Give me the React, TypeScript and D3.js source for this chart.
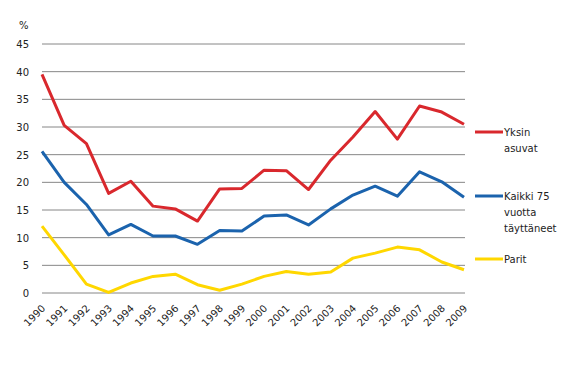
import React from "react";
import * as d3 from "d3";

const years = [1990,1991,1992,1993,1994,1995,1996,1997,1998,1999,2000,2001,2002,2003,2004,2005,2006,2007,2008,2009];
const yksinAsuvat = [39.5,30.3,27.0,18.0,20.2,15.7,15.2,13.0,18.8,18.9,22.2,22.1,18.7,24.0,28.2,32.8,27.8,33.8,32.7,30.5];
const kaikki75 = [25.6,20.0,16.0,10.5,12.4,10.3,10.3,8.8,11.3,11.2,13.9,14.1,12.3,15.2,17.7,19.3,17.5,21.9,20.1,17.3];
const parit = [12.1,6.9,1.6,0.1,1.8,3.0,3.4,1.5,0.5,1.6,3.0,3.9,3.4,3.8,6.3,7.2,8.3,7.8,5.6,4.2];
const yTicks = [0,5,10,15,20,25,30,35,40,45];

const series = [
  { name: ["Yksin", "asuvat"], values: yksinAsuvat, color: "#d9282d" },
  { name: ["Kaikki 75", "vuotta", "täyttäneet"], values: kaikki75, color: "#1b63ad" },
  { name: ["Parit"], values: parit, color: "#ffd700" },
];

export default function App() {
  const W = 565, H = 382;
  const x = d3.scaleLinear().domain([1990, 2009]).range([42, 464]);
  const y = d3.scaleLinear().domain([0, 45]).range([293, 44]);
  const line = d3.line<number>().x((_, i) => x(years[i])).y(d => y(d));
  const font = "'DejaVu Sans', Verdana, sans-serif";
  const legendY = [132, 196, 259];
  return (
    <svg width={W} height={H} style={{ position: "absolute", left: 0, top: 0 }} fontFamily={font}>
      <rect width={W} height={H} fill="#fff" />
      {yTicks.map(t => (
        <g key={t}>
          <line x1={42} x2={465} y1={y(t)} y2={y(t)} stroke="#868686" strokeWidth={1} />
          <text x={29} y={y(t) + 4} textAnchor="end" fontSize={10} fill="#222">{t}</text>
        </g>
      ))}
      <text x={19} y={29} fontSize={10} fill="#222">%</text>
      {years.map(yr => (
        <text key={yr} transform={`translate(${x(yr) + 4},${309}) rotate(-45)`} textAnchor="end" fontSize={10} fill="#222">{yr}</text>
      ))}
      {series.map(s => (
        <path key={s.name[0]} d={line(s.values) || ""} fill="none" stroke={s.color} strokeWidth={3} strokeLinejoin="round" />
      ))}
      {series.map((s, i) => (
        <g key={"lg" + i}>
          <line x1={475} x2={503} y1={legendY[i]} y2={legendY[i]} stroke={s.color} strokeWidth={3} />
          {s.name.map((n, j) => (
            <text key={j} x={504} y={legendY[i] + 4 + j * 16} fontSize={10} fill="#222">{n}</text>
          ))}
        </g>
      ))}
    </svg>
  );
}
